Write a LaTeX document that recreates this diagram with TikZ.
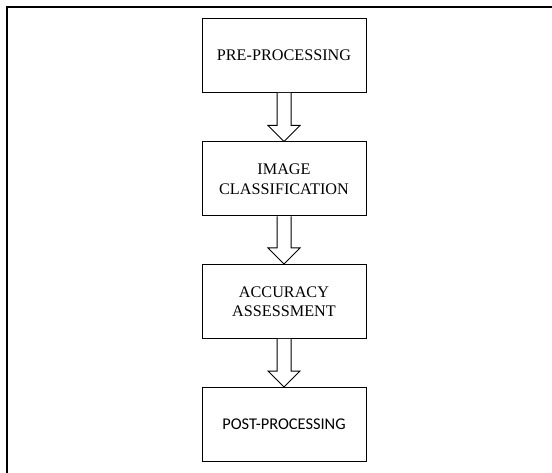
\documentclass[tikz,border=0pt]{standalone}
\usepackage{fontspec}
\setmainfont{Liberation Serif}
\newfontfamily\calib{Carlito}
\usetikzlibrary{calc}
\begin{document}
\begin{tikzpicture}[x=1pt,y=-1pt,
  stage/.style={draw,line width=1pt,minimum width=164pt,minimum height=74pt,align=center,inner sep=0pt,
    font=\fontsize{16.2}{19.5}\selectfont},
  hollow/.style={draw,line width=1pt,fill=white,line join=miter}]
\useasboundingbox (0,0) rectangle (552,473);
\draw[line width=1.5pt] (552,7) -- (7,7) -- (7,473);
\node[stage] (pre) at (284,55.5) {PRE-PROCESSING};
\node[stage] (cls) at (284,179) {IMAGE\\CLASSIFICATION};
\node[stage] (acc) at (284,301.5) {ACCURACY\\ASSESSMENT};
\node[stage,font=\calib\fontsize{16.4}{19.5}\selectfont] (post) at (284,424.5) {POST-PROCESSING};
\foreach \a/\b in {pre/cls,cls/acc,acc/post}{
  \draw[hollow] ($(\a.south)+(-7,0)$) -- ($(\b.north)+(-7,-16)$) -- ($(\b.north)+(-16,-16)$)
    -- (\b.north) -- ($(\b.north)+(16,-16)$) -- ($(\b.north)+(7,-16)$) -- ($(\a.south)+(7,0)$);
}
\end{tikzpicture}
\end{document}
